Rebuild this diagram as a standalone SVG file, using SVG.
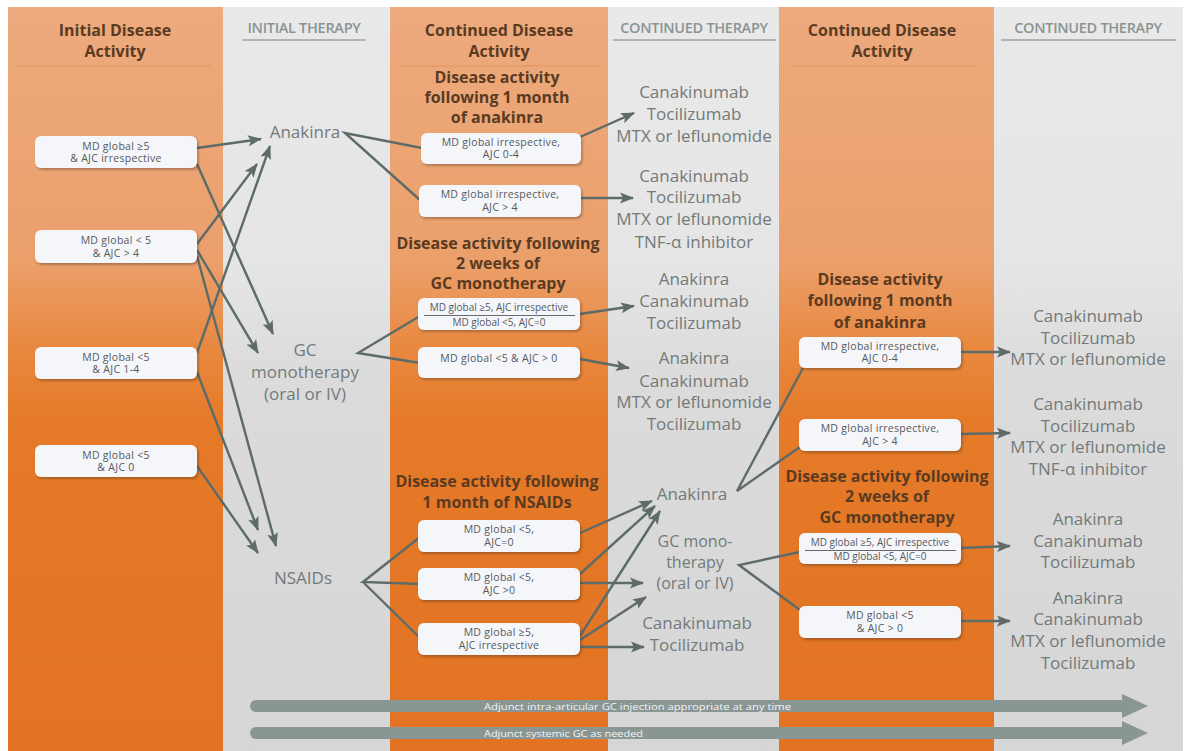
<svg xmlns="http://www.w3.org/2000/svg" width="1185" height="751" viewBox="0 0 1185 751">
<defs>
<linearGradient id="og" gradientUnits="userSpaceOnUse" x1="0" y1="7" x2="0" y2="751">
<stop offset="0" stop-color="#EDAA7E"/>
<stop offset="0.34" stop-color="#EBA06B"/>
<stop offset="0.46" stop-color="#E8883F"/>
<stop offset="0.56" stop-color="#E57A28"/>
<stop offset="1" stop-color="#E27322"/>
</linearGradient>
<linearGradient id="gg" gradientUnits="userSpaceOnUse" x1="0" y1="7" x2="0" y2="751">
<stop offset="0" stop-color="#E9E9E9"/>
<stop offset="0.35" stop-color="#E5E5E5"/>
<stop offset="0.5" stop-color="#DBDBDB"/>
<stop offset="1" stop-color="#D6D6D6"/>
</linearGradient>
<filter id="sh" x="-10%" y="-20%" width="120%" height="160%">
<feDropShadow dx="1.5" dy="2" stdDeviation="1.2" flood-color="#3a2a1a" flood-opacity="0.35"/>
</filter>
<marker id="ah" markerUnits="userSpaceOnUse" markerWidth="15" markerHeight="12" refX="13" refY="6" orient="auto">
<path d="M0,0.5 L14,6 L0,11.5 L3,6 z" fill="#5D6B69"/>
</marker>
<style>
text{font-family:"Open Sans","Noto Sans",sans-serif}
.hdr{font-size:16px;font-weight:700;fill:#5A3B22;text-anchor:middle}
.th{font-size:14.5px;font-weight:600;fill:#8A9494;text-anchor:middle;letter-spacing:-0.3px}
.tl{stroke:#9AA4A4;stroke-width:1.6}
.ol{stroke:#D9935F;stroke-width:1;opacity:0.8}
.drug{font-size:17px;fill:#737A7A;text-anchor:middle}
.dsm{font-size:16px}
.bx{fill:#F4F6FA;filter:url(#sh)}
.bt{font-size:10.5px;fill:#54595E;text-anchor:middle;letter-spacing:0.3px}
.bs{font-size:10px;fill:#54595E;text-anchor:middle}
.c{stroke:#5D6B69;stroke-width:2.4;fill:none}
.a{marker-end:url(#ah)}
.bar{fill:#8A9694}
.bart{font-size:9.5px;fill:#F4F4F4}
</style>
</defs>
<rect width="1185" height="751" fill="#FFFFFF"/>
<g id="columns">
<rect x="8" y="7" width="215" height="744" fill="url(#og)"/>
<rect x="223" y="7" width="167" height="744" fill="url(#gg)"/>
<rect x="390" y="7" width="218" height="744" fill="url(#og)"/>
<rect x="608" y="7" width="171" height="744" fill="url(#gg)"/>
<rect x="779" y="7" width="215" height="744" fill="url(#og)"/>
<rect x="994" y="7" width="189" height="744" fill="url(#gg)"/>
</g>
<g id="headers">
<text class="hdr" x="115" y="36">Initial Disease</text>
<text class="hdr" x="115" y="57">Activity</text>
<line class="ol" x1="16" y1="66" x2="211" y2="66"/>
<text class="th" x="304" y="33">INITIAL THERAPY</text>
<line class="tl" x1="242" y1="40" x2="366" y2="40"/>
<text class="hdr" x="499" y="36">Continued Disease</text>
<text class="hdr" x="499" y="57">Activity</text>
<line class="ol" x1="402" y1="66" x2="598" y2="66"/>
<text class="th" x="694" y="33">CONTINUED THERAPY</text>
<line class="tl" x1="613" y1="40" x2="776" y2="40"/>
<text class="hdr" x="882" y="36">Continued Disease</text>
<text class="hdr" x="882" y="57">Activity</text>
<line class="ol" x1="791" y1="66" x2="975" y2="66"/>
<text class="th" x="1088" y="33">CONTINUED THERAPY</text>
<line class="tl" x1="1001" y1="40" x2="1176" y2="40"/>
</g>
<g id="connectors">
<path class="c a" d="M197,148 L261,139"/>
<path class="c a" d="M197,164 L273,334"/>
<path class="c a" d="M197,244 L257,164"/>
<path class="c a" d="M197,250 L258,353"/>
<path class="c a" d="M197,256 L276,546"/>
<path class="c a" d="M197,353 L270,146"/>
<path class="c a" d="M197,372 L258,530"/>
<path class="c a" d="M197,466 L258,553"/>
<path class="c" d="M422,148 L345,133 L420,200"/>
<path class="c" d="M420,316 L358,353 L420,363"/>
<path class="c" d="M420,537 L363,582 L420,584 M363,582 L420,638"/>
<path class="c a" d="M580,137 L634,113"/>
<path class="c a" d="M580,198 L633,198"/>
<path class="c a" d="M580,314 L634,306"/>
<path class="c a" d="M580,359 L629,368"/>
<path class="c a" d="M580,533 L652,501"/>
<path class="c a" d="M580,574 L655,506"/>
<path class="c a" d="M580,583 L643,583"/>
<path class="c a" d="M580,636 L660,511"/>
<path class="c a" d="M580,640 L646,597"/>
<path class="c a" d="M580,647 L644,647"/>
<path class="c" d="M803,368 L737,491 L800,447"/>
<path class="c" d="M800,552 L739,565 L800,610"/>
<path class="c a" d="M961,352 L1010,352"/>
<path class="c a" d="M961,434 L1010,433"/>
<path class="c a" d="M961,548 L1010,546"/>
<path class="c a" d="M961,621 L1010,621"/>
</g>
<g id="initial-activity">
<g id="boxA"><rect class="bx" x="35" y="136" width="162" height="32" rx="6"/><text class="bt" x="116" y="150">MD global ≥5</text><text class="bt" x="116" y="162">&amp; AJC irrespective</text></g>
<g id="boxB"><rect class="bx" x="35" y="230" width="162" height="33" rx="6"/><text class="bt" x="116" y="244">MD global &lt; 5</text><text class="bt" x="116" y="257">&amp; AJC &gt; 4</text></g>
<g id="boxC"><rect class="bx" x="35" y="347" width="162" height="32" rx="6"/><text class="bt" x="116" y="361">MD global &lt;5</text><text class="bt" x="116" y="373">&amp; AJC 1-4</text></g>
<g id="boxD"><rect class="bx" x="35" y="445" width="162" height="32" rx="6"/><text class="bt" x="116" y="459">MD global &lt;5</text><text class="bt" x="116" y="471">&amp; AJC 0</text></g>
</g>
<g id="initial-therapy">
<g id="anakinra1"><text class="drug" x="305" y="138">Anakinra</text></g>
<g id="gc1"><text class="drug" x="305" y="356">GC</text><text class="drug" x="305" y="378">monotherapy</text><text class="drug" x="305" y="400">(oral or IV)</text></g>
<g id="nsaids"><text class="drug" x="303" y="584">NSAIDs</text></g>
</g>
<g id="continued-activity-1">
<g id="h-ana1"><text class="hdr" x="497" y="83">Disease activity</text><text class="hdr" x="497" y="103">following 1 month</text><text class="hdr" x="497" y="123">of anakinra</text></g>
<g id="a1"><rect class="bx" x="421" y="133" width="160" height="31" rx="6"/><text class="bt" x="501" y="146">MD global irrespective,</text><text class="bt" x="501" y="158">AJC 0-4</text></g>
<g id="a2"><rect class="bx" x="419" y="185" width="162" height="32" rx="6"/><text class="bt" x="500" y="198">MD global irrespective,</text><text class="bt" x="500" y="211">AJC &gt; 4</text></g>
<g id="h-gc1"><text class="hdr" x="498" y="249">Disease activity following</text><text class="hdr" x="498" y="269">2 weeks of</text><text class="hdr" x="498" y="289">GC monotherapy</text></g>
<g id="g1"><rect class="bx" x="418" y="298" width="162" height="32" rx="6"/><text class="bs" x="499" y="311">MD global ≥5, AJC irrespective</text><line x1="424" y1="315.5" x2="575" y2="315.5" stroke="#54595E" stroke-width="0.9"/><text class="bs" x="499" y="326">MD global &lt;5, AJC=0</text></g>
<g id="g2"><rect class="bx" x="418" y="347" width="162" height="31" rx="6"/><text class="bt" x="499" y="362">MD global &lt;5 &amp; AJC &gt; 0</text></g>
<g id="h-ns"><text class="hdr" x="497" y="487">Disease activity following</text><text class="hdr" x="497" y="508">1 month of NSAIDs</text></g>
<g id="n1"><rect class="bx" x="418" y="520" width="162" height="32" rx="6"/><text class="bt" x="499" y="533">MD global &lt;5,</text><text class="bt" x="499" y="546">AJC=0</text></g>
<g id="n2"><rect class="bx" x="418" y="568" width="162" height="32" rx="6"/><text class="bt" x="499" y="581">MD global &lt;5,</text><text class="bt" x="499" y="594">AJC &gt;0</text></g>
<g id="n3"><rect class="bx" x="418" y="623" width="162" height="32" rx="6"/><text class="bt" x="499" y="636">MD global ≥5,</text><text class="bt" x="499" y="649">AJC irrespective</text></g>
</g>
<g id="continued-therapy-1">
<g id="t1"><text class="drug" x="694" y="98">Canakinumab</text><text class="drug" x="694" y="120">Tocilizumab</text><text class="drug" x="694" y="142">MTX or leflunomide</text></g>
<g id="t2"><text class="drug" x="694" y="182">Canakinumab</text><text class="drug" x="694" y="203">Tocilizumab</text><text class="drug" x="694" y="225">MTX or leflunomide</text><text class="drug" x="694" y="248">TNF-α inhibitor</text></g>
<g id="t3"><text class="drug" x="694" y="285">Anakinra</text><text class="drug" x="694" y="307">Canakinumab</text><text class="drug" x="694" y="329">Tocilizumab</text></g>
<g id="t4"><text class="drug" x="694" y="364">Anakinra</text><text class="drug" x="694" y="387">Canakinumab</text><text class="drug" x="694" y="408">MTX or leflunomide</text><text class="drug" x="694" y="430">Tocilizumab</text></g>
<g id="anakinra2"><text class="drug" x="692" y="500">Anakinra</text></g>
<g id="gc2"><text class="drug dsm" x="695" y="547">GC mono-</text><text class="drug dsm" x="695" y="568">therapy</text><text class="drug dsm" x="695" y="589">(oral or IV)</text></g>
<g id="t5"><text class="drug" x="697" y="629">Canakinumab</text><text class="drug" x="697" y="651">Tocilizumab</text></g>
</g>
<g id="continued-activity-2">
<g id="h-ana2"><text class="hdr" x="880" y="285">Disease activity</text><text class="hdr" x="880" y="306">following 1 month</text><text class="hdr" x="880" y="328">of anakinra</text></g>
<g id="b1"><rect class="bx" x="799" y="337" width="162" height="31" rx="6"/><text class="bt" x="880" y="350">MD global irrespective,</text><text class="bt" x="880" y="362">AJC 0-4</text></g>
<g id="b2"><rect class="bx" x="799" y="419" width="162" height="32" rx="6"/><text class="bt" x="880" y="432">MD global irrespective,</text><text class="bt" x="880" y="445">AJC &gt; 4</text></g>
<g id="h-gc2"><text class="hdr" x="887" y="482">Disease activity following</text><text class="hdr" x="887" y="502">2 weeks of</text><text class="hdr" x="887" y="523">GC monotherapy</text></g>
<g id="b3"><rect class="bx" x="799" y="533" width="162" height="31" rx="6"/><text class="bs" x="880" y="546">MD global ≥5, AJC irrespective</text><line x1="805" y1="550.5" x2="956" y2="550.5" stroke="#54595E" stroke-width="0.9"/><text class="bs" x="880" y="560">MD global &lt;5, AJC=0</text></g>
<g id="b4"><rect class="bx" x="799" y="606" width="162" height="32" rx="6"/><text class="bt" x="880" y="619">MD global &lt;5</text><text class="bt" x="880" y="632">&amp; AJC &gt; 0</text></g>
</g>
<g id="continued-therapy-2">
<g id="u1"><text class="drug" x="1088" y="322">Canakinumab</text><text class="drug" x="1088" y="344">Tocilizumab</text><text class="drug" x="1088" y="365">MTX or leflunomide</text></g>
<g id="u2"><text class="drug" x="1088" y="410">Canakinumab</text><text class="drug" x="1088" y="432">Tocilizumab</text><text class="drug" x="1088" y="453">MTX or leflunomide</text><text class="drug" x="1088" y="475">TNF-α inhibitor</text></g>
<g id="u3"><text class="drug" x="1088" y="525">Anakinra</text><text class="drug" x="1088" y="547">Canakinumab</text><text class="drug" x="1088" y="568">Tocilizumab</text></g>
<g id="u4"><text class="drug" x="1088" y="604">Anakinra</text><text class="drug" x="1088" y="625">Canakinumab</text><text class="drug" x="1088" y="647">MTX or leflunomide</text><text class="drug" x="1088" y="669">Tocilizumab</text></g>
</g>
<g id="adjunct-bars">
<g id="bar1"><rect class="bar" x="250" y="700" width="880" height="12" rx="6"/><polygon class="bar" points="1122,694 1148,706 1122,718"/><text class="bart" x="484" y="709.5" textLength="307" lengthAdjust="spacingAndGlyphs">Adjunct intra-articular GC injection appropriate at any time</text></g>
<g id="bar2"><rect class="bar" x="250" y="727" width="880" height="12" rx="6"/><polygon class="bar" points="1122,721 1148,733 1122,745"/><text class="bart" x="484" y="736.5" textLength="159" lengthAdjust="spacingAndGlyphs">Adjunct systemic GC as needed</text></g>
</g>
</svg>
